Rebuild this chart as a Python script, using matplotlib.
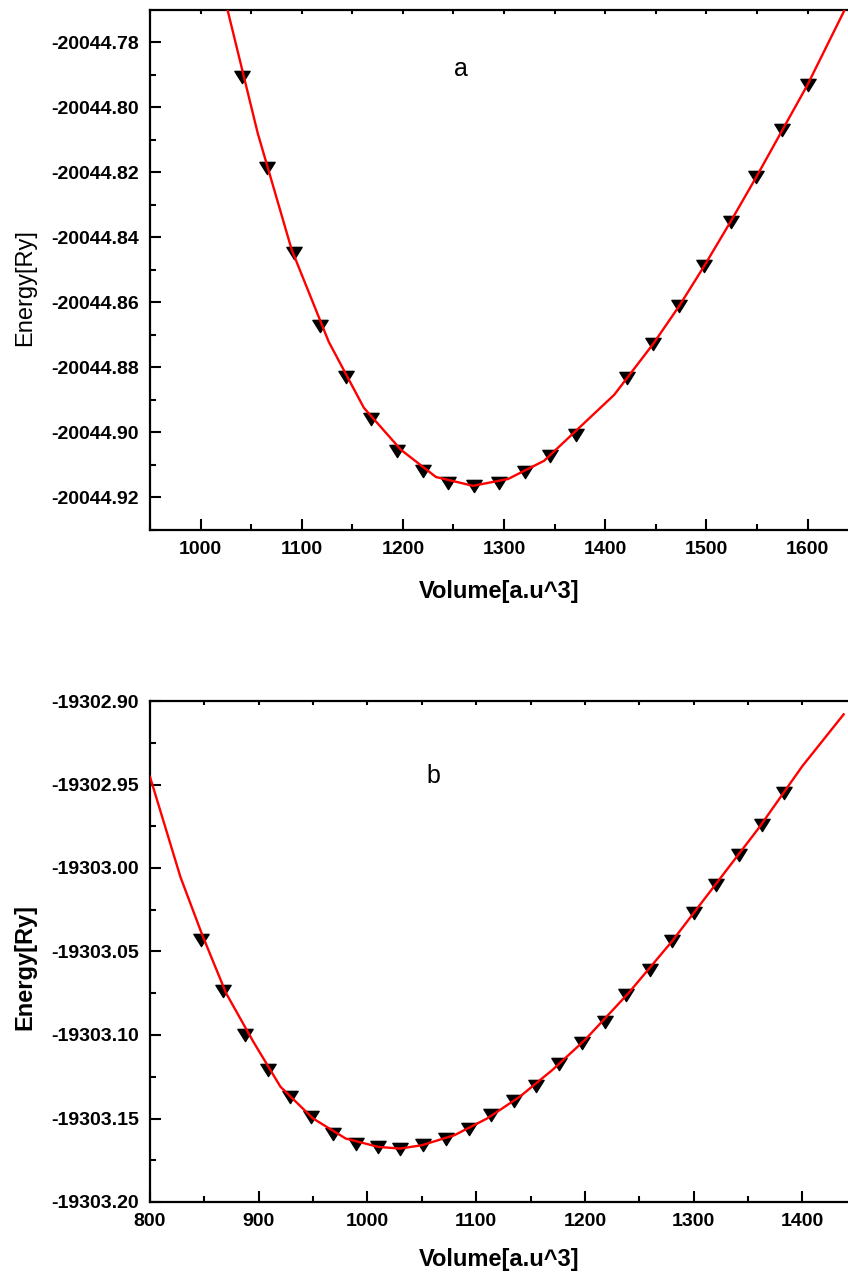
import matplotlib
matplotlib.use("Agg")
import matplotlib.pyplot as plt
from matplotlib.ticker import MultipleLocator, FormatStrFormatter
from matplotlib.path import Path

plt.rcParams['font.family'] = ['Liberation Sans', 'DejaVu Sans']

# ---- panel a data ----
vol_a = [1040.6, 1066.0, 1092.0, 1118.0, 1143.6, 1168.0, 1194.0, 1220.0, 1244.6, 1270.0,
         1295.0, 1321.0, 1345.5, 1371.0, 1421.8, 1447.5, 1473.0, 1498.0, 1524.0, 1549.5,
         1575.0, 1600.0]
en_a = [-20044.7907, -20044.8187, -20044.8448, -20044.8673, -20044.8830, -20044.8959,
        -20044.9057, -20044.9119, -20044.9156, -20044.9165, -20044.9156, -20044.9122,
        -20044.9073, -20044.9008, -20044.8833, -20044.8728, -20044.8611, -20044.8488,
        -20044.8353, -20044.8214, -20044.8070, -20044.7931]
fit_vol_a = [1021.8, 1056.4, 1090.1, 1126.7, 1161.4, 1198.0, 1232.7, 1269.3, 1304.0, 1339.6,
             1408.9, 1447.5, 1473.3, 1498.0, 1523.8, 1549.5, 1575.2, 1600.0, 1646.5]
fit_en_a = [-20044.7639, -20044.8079, -20044.8439, -20044.8722, -20044.8925, -20044.9054,
            -20044.9138, -20044.9165, -20044.9144, -20044.9088, -20044.8885, -20044.8728,
            -20044.8611, -20044.8488, -20044.8353, -20044.8214, -20044.8070, -20044.7931,
            -20044.7639]

# ---- panel b data ----
vol_b = [846.9, 866.9, 887.4, 908.3, 928.8, 948.2, 968.4, 989.6, 1009.8, 1030.1, 1051.2,
         1072.4, 1093.5, 1113.8, 1135.0, 1155.2, 1176.6, 1197.3, 1218.1, 1238.0, 1260.1,
         1280.4, 1300.6, 1320.8, 1342.0, 1363.2, 1383.4]
en_b = [-19303.043, -19303.0738, -19303.0998, -19303.1208, -19303.1374, -19303.149,
        -19303.159, -19303.165, -19303.167, -19303.168, -19303.166, -19303.162,
        -19303.156, -19303.148, -19303.1398, -19303.1304, -19303.1174, -19303.1050,
        -19303.0924, -19303.0760, -19303.0608, -19303.044, -19303.027, -19303.010,
        -19302.992, -19302.974, -19302.955]
fit_vol_b = [800, 828, 848, 870, 895, 920, 950, 980, 1010, 1030, 1050, 1080, 1110, 1140,
             1170, 1200, 1240, 1280, 1320, 1360, 1400, 1438]
fit_en_b = [-19302.9454, -19303.0054, -19303.040, -19303.075, -19303.104, -19303.131,
            -19303.150, -19303.162, -19303.167, -19303.168, -19303.166, -19303.160,
            -19303.150, -19303.137, -19303.121, -19303.103, -19303.075, -19303.044,
            -19303.010, -19302.976, -19302.939, -19302.908]

W, H = 848, 1275
fig = plt.figure(figsize=(W / 100, H / 100), dpi=100)

tri = Path([(-1, 0.8), (1, 0.8), (0, -0.8), (-1, 0.8)], [1, 2, 2, 79])


def frac_box(l, t, r, b):
    return [l / W, 1 - b / H, (r - l) / W, (b - t) / H]


def style(ax, xlim, ylim, xmaj, xmin, ymaj, ymin, yfmt):
    ax.set_xlim(*xlim)
    ax.set_ylim(*ylim)
    ax.spines['right'].set_visible(False)
    for s in ['left', 'bottom', 'top']:
        ax.spines[s].set_linewidth(1.6)
    ax.xaxis.set_major_locator(MultipleLocator(xmaj))
    ax.xaxis.set_minor_locator(MultipleLocator(xmin))
    ax.yaxis.set_major_locator(MultipleLocator(ymaj))
    ax.yaxis.set_minor_locator(MultipleLocator(ymin))
    ax.yaxis.set_major_formatter(FormatStrFormatter(yfmt))
    ax.xaxis.set_major_formatter(FormatStrFormatter('%d'))
    ax.tick_params(axis='both', which='major', direction='in', length=8, width=1.5,
                   labelsize=14, pad=8)
    ax.tick_params(axis='both', which='minor', direction='in', length=4.5, width=1.5)
    ax.tick_params(axis='x', which='both', top=True)
    for lab in ax.get_xticklabels() + ax.get_yticklabels():
        lab.set_fontweight('bold')


# ---- panel a ----
ax1 = fig.add_axes(frac_box(150, 10, 848, 530))
ax1.plot(vol_a, en_a, linestyle='none', marker=tri, markersize=11, color='black', zorder=2)
ax1.plot(fit_vol_a, fit_en_a, color='red', linewidth=1.7, zorder=3)
style(ax1, (950, 1640), (-20044.9301, -20044.7701), 100, 50, 0.02, 0.01, '%.2f')
ax1.set_xlabel('Volume[a.u^3]', fontsize=17, fontweight='bold', labelpad=16)
ax1.text(0.4456, 0.887, 'a', transform=ax1.transAxes, fontsize=18, ha='center', va='center')
fig.text(25 / W, 1 - 288 / H, 'Energy[Ry]', rotation=90, fontsize=17,
         ha='center', va='center')

# ---- panel b ----
ax2 = fig.add_axes(frac_box(150, 701, 848, 1202))
ax2.plot(vol_b, en_b, linestyle='none', marker=tri, markersize=11, color='black', zorder=2)
ax2.plot(fit_vol_b, fit_en_b, color='red', linewidth=1.7, zorder=3)
style(ax2, (800, 1442), (-19303.20, -19302.90), 100, 50, 0.05, 0.025, '%.2f')
ax2.set_xlabel('Volume[a.u^3]', fontsize=17, fontweight='bold', labelpad=13)
ax2.text((433 - 150) / 698, (1202 - 776) / 501, 'b', transform=ax2.transAxes,
         fontsize=18, ha='center', va='center')
fig.text(25 / W, 1 - 967 / H, 'Energy[Ry]', rotation=90, fontsize=17,
         fontweight='bold', ha='center', va='center')

# top-spine ticks are tiny
for ax in (ax1, ax2):
    for t in ax.xaxis.get_major_ticks() + ax.xaxis.get_minor_ticks():
        t.tick2line.set_markersize(3)

fig.savefig('out.png', dpi=100)
